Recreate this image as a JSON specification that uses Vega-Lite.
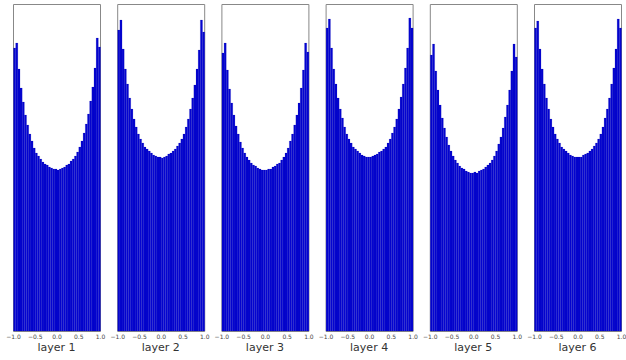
{
  "$schema": "https://vega.github.io/schema/vega-lite/v6.json",
  "padding": {"left": 5, "top": 3, "right": 0, "bottom": 0},
  "background": "white",
  "bounds": "flush",
  "config": {
    "font": "DejaVu Sans",
    "view": {"stroke": "#888888", "strokeWidth": 1},
    "axis": {"domain": false, "grid": false}
  },
  "data": {"values": [
    {"layer":"layer 1","lo":-1.0,"hi":-0.95,"count":283},{"layer":"layer 1","lo":-0.95,"hi":-0.9,"count":288},{"layer":"layer 1","lo":-0.9,"hi":-0.85,"count":262},{"layer":"layer 1","lo":-0.85,"hi":-0.8,"count":243},{"layer":"layer 1","lo":-0.8,"hi":-0.75,"count":229},{"layer":"layer 1","lo":-0.75,"hi":-0.7,"count":216},{"layer":"layer 1","lo":-0.7,"hi":-0.65,"count":206},{"layer":"layer 1","lo":-0.65,"hi":-0.6,"count":197},{"layer":"layer 1","lo":-0.6,"hi":-0.55,"count":190},{"layer":"layer 1","lo":-0.55,"hi":-0.5,"count":183},{"layer":"layer 1","lo":-0.5,"hi":-0.45,"count":178},{"layer":"layer 1","lo":-0.45,"hi":-0.4,"count":175},{"layer":"layer 1","lo":-0.4,"hi":-0.35,"count":172},{"layer":"layer 1","lo":-0.35,"hi":-0.3,"count":169},{"layer":"layer 1","lo":-0.3,"hi":-0.25,"count":167},{"layer":"layer 1","lo":-0.25,"hi":-0.2,"count":166},{"layer":"layer 1","lo":-0.2,"hi":-0.15,"count":164},{"layer":"layer 1","lo":-0.15,"hi":-0.1,"count":163},{"layer":"layer 1","lo":-0.1,"hi":-0.05,"count":162},{"layer":"layer 1","lo":-0.05,"hi":0.0,"count":162},
    {"layer":"layer 1","lo":0.0,"hi":0.05,"count":161},{"layer":"layer 1","lo":0.05,"hi":0.1,"count":162},{"layer":"layer 1","lo":0.1,"hi":0.15,"count":163},{"layer":"layer 1","lo":0.15,"hi":0.2,"count":164},{"layer":"layer 1","lo":0.2,"hi":0.25,"count":166},{"layer":"layer 1","lo":0.25,"hi":0.3,"count":167},{"layer":"layer 1","lo":0.3,"hi":0.35,"count":170},{"layer":"layer 1","lo":0.35,"hi":0.4,"count":172},{"layer":"layer 1","lo":0.4,"hi":0.45,"count":175},{"layer":"layer 1","lo":0.45,"hi":0.5,"count":179},{"layer":"layer 1","lo":0.5,"hi":0.55,"count":184},{"layer":"layer 1","lo":0.55,"hi":0.6,"count":190},{"layer":"layer 1","lo":0.6,"hi":0.65,"count":198},{"layer":"layer 1","lo":0.65,"hi":0.7,"count":207},{"layer":"layer 1","lo":0.7,"hi":0.75,"count":217},{"layer":"layer 1","lo":0.75,"hi":0.8,"count":230},{"layer":"layer 1","lo":0.8,"hi":0.85,"count":244},{"layer":"layer 1","lo":0.85,"hi":0.9,"count":263},{"layer":"layer 1","lo":0.9,"hi":0.95,"count":293},{"layer":"layer 1","lo":0.95,"hi":1.0,"count":284},

    {"layer":"layer 2","lo":-1.0,"hi":-0.95,"count":301},{"layer":"layer 2","lo":-0.95,"hi":-0.9,"count":311},{"layer":"layer 2","lo":-0.9,"hi":-0.85,"count":282},{"layer":"layer 2","lo":-0.85,"hi":-0.8,"count":262},{"layer":"layer 2","lo":-0.8,"hi":-0.75,"count":247},{"layer":"layer 2","lo":-0.75,"hi":-0.7,"count":233},{"layer":"layer 2","lo":-0.7,"hi":-0.65,"count":222},{"layer":"layer 2","lo":-0.65,"hi":-0.6,"count":212},{"layer":"layer 2","lo":-0.6,"hi":-0.55,"count":204},{"layer":"layer 2","lo":-0.55,"hi":-0.5,"count":197},{"layer":"layer 2","lo":-0.5,"hi":-0.45,"count":192},{"layer":"layer 2","lo":-0.45,"hi":-0.4,"count":188},{"layer":"layer 2","lo":-0.4,"hi":-0.35,"count":184},{"layer":"layer 2","lo":-0.35,"hi":-0.3,"count":182},{"layer":"layer 2","lo":-0.3,"hi":-0.25,"count":180},{"layer":"layer 2","lo":-0.25,"hi":-0.2,"count":178},{"layer":"layer 2","lo":-0.2,"hi":-0.15,"count":176},{"layer":"layer 2","lo":-0.15,"hi":-0.1,"count":175},{"layer":"layer 2","lo":-0.1,"hi":-0.05,"count":174},{"layer":"layer 2","lo":-0.05,"hi":0.0,"count":174},
    {"layer":"layer 2","lo":0.0,"hi":0.05,"count":173},{"layer":"layer 2","lo":0.05,"hi":0.1,"count":174},{"layer":"layer 2","lo":0.1,"hi":0.15,"count":175},{"layer":"layer 2","lo":0.15,"hi":0.2,"count":177},{"layer":"layer 2","lo":0.2,"hi":0.25,"count":178},{"layer":"layer 2","lo":0.25,"hi":0.3,"count":180},{"layer":"layer 2","lo":0.3,"hi":0.35,"count":182},{"layer":"layer 2","lo":0.35,"hi":0.4,"count":185},{"layer":"layer 2","lo":0.4,"hi":0.45,"count":188},{"layer":"layer 2","lo":0.45,"hi":0.5,"count":192},{"layer":"layer 2","lo":0.5,"hi":0.55,"count":197},{"layer":"layer 2","lo":0.55,"hi":0.6,"count":204},{"layer":"layer 2","lo":0.6,"hi":0.65,"count":212},{"layer":"layer 2","lo":0.65,"hi":0.7,"count":222},{"layer":"layer 2","lo":0.7,"hi":0.75,"count":233},{"layer":"layer 2","lo":0.75,"hi":0.8,"count":246},{"layer":"layer 2","lo":0.8,"hi":0.85,"count":262},{"layer":"layer 2","lo":0.85,"hi":0.9,"count":281},{"layer":"layer 2","lo":0.9,"hi":0.95,"count":311},{"layer":"layer 2","lo":0.95,"hi":1.0,"count":299},

    {"layer":"layer 3","lo":-1.0,"hi":-0.95,"count":278},{"layer":"layer 3","lo":-0.95,"hi":-0.9,"count":288},{"layer":"layer 3","lo":-0.9,"hi":-0.85,"count":261},{"layer":"layer 3","lo":-0.85,"hi":-0.8,"count":242},{"layer":"layer 3","lo":-0.8,"hi":-0.75,"count":228},{"layer":"layer 3","lo":-0.75,"hi":-0.7,"count":216},{"layer":"layer 3","lo":-0.7,"hi":-0.65,"count":205},{"layer":"layer 3","lo":-0.65,"hi":-0.6,"count":197},{"layer":"layer 3","lo":-0.6,"hi":-0.55,"count":189},{"layer":"layer 3","lo":-0.55,"hi":-0.5,"count":183},{"layer":"layer 3","lo":-0.5,"hi":-0.45,"count":178},{"layer":"layer 3","lo":-0.45,"hi":-0.4,"count":174},{"layer":"layer 3","lo":-0.4,"hi":-0.35,"count":171},{"layer":"layer 3","lo":-0.35,"hi":-0.3,"count":168},{"layer":"layer 3","lo":-0.3,"hi":-0.25,"count":166},{"layer":"layer 3","lo":-0.25,"hi":-0.2,"count":165},{"layer":"layer 3","lo":-0.2,"hi":-0.15,"count":163},{"layer":"layer 3","lo":-0.15,"hi":-0.1,"count":162},{"layer":"layer 3","lo":-0.1,"hi":-0.05,"count":161},{"layer":"layer 3","lo":-0.05,"hi":0.0,"count":161},
    {"layer":"layer 3","lo":0.0,"hi":0.05,"count":161},{"layer":"layer 3","lo":0.05,"hi":0.1,"count":162},{"layer":"layer 3","lo":0.1,"hi":0.15,"count":162},{"layer":"layer 3","lo":0.15,"hi":0.2,"count":164},{"layer":"layer 3","lo":0.2,"hi":0.25,"count":165},{"layer":"layer 3","lo":0.25,"hi":0.3,"count":167},{"layer":"layer 3","lo":0.3,"hi":0.35,"count":168},{"layer":"layer 3","lo":0.35,"hi":0.4,"count":171},{"layer":"layer 3","lo":0.4,"hi":0.45,"count":174},{"layer":"layer 3","lo":0.45,"hi":0.5,"count":178},{"layer":"layer 3","lo":0.5,"hi":0.55,"count":183},{"layer":"layer 3","lo":0.55,"hi":0.6,"count":190},{"layer":"layer 3","lo":0.6,"hi":0.65,"count":197},{"layer":"layer 3","lo":0.65,"hi":0.7,"count":206},{"layer":"layer 3","lo":0.7,"hi":0.75,"count":216},{"layer":"layer 3","lo":0.75,"hi":0.8,"count":228},{"layer":"layer 3","lo":0.8,"hi":0.85,"count":243},{"layer":"layer 3","lo":0.85,"hi":0.9,"count":261},{"layer":"layer 3","lo":0.9,"hi":0.95,"count":288},{"layer":"layer 3","lo":0.95,"hi":1.0,"count":279},

    {"layer":"layer 4","lo":-1.0,"hi":-0.95,"count":303},{"layer":"layer 4","lo":-0.95,"hi":-0.9,"count":312},{"layer":"layer 4","lo":-0.9,"hi":-0.85,"count":283},{"layer":"layer 4","lo":-0.85,"hi":-0.8,"count":262},{"layer":"layer 4","lo":-0.8,"hi":-0.75,"count":247},{"layer":"layer 4","lo":-0.75,"hi":-0.7,"count":233},{"layer":"layer 4","lo":-0.7,"hi":-0.65,"count":222},{"layer":"layer 4","lo":-0.65,"hi":-0.6,"count":213},{"layer":"layer 4","lo":-0.6,"hi":-0.55,"count":204},{"layer":"layer 4","lo":-0.55,"hi":-0.5,"count":197},{"layer":"layer 4","lo":-0.5,"hi":-0.45,"count":192},{"layer":"layer 4","lo":-0.45,"hi":-0.4,"count":188},{"layer":"layer 4","lo":-0.4,"hi":-0.35,"count":184},{"layer":"layer 4","lo":-0.35,"hi":-0.3,"count":182},{"layer":"layer 4","lo":-0.3,"hi":-0.25,"count":180},{"layer":"layer 4","lo":-0.25,"hi":-0.2,"count":178},{"layer":"layer 4","lo":-0.2,"hi":-0.15,"count":176},{"layer":"layer 4","lo":-0.15,"hi":-0.1,"count":175},{"layer":"layer 4","lo":-0.1,"hi":-0.05,"count":174},{"layer":"layer 4","lo":-0.05,"hi":0.0,"count":174},
    {"layer":"layer 4","lo":0.0,"hi":0.05,"count":174},{"layer":"layer 4","lo":0.05,"hi":0.1,"count":175},{"layer":"layer 4","lo":0.1,"hi":0.15,"count":176},{"layer":"layer 4","lo":0.15,"hi":0.2,"count":177},{"layer":"layer 4","lo":0.2,"hi":0.25,"count":179},{"layer":"layer 4","lo":0.25,"hi":0.3,"count":180},{"layer":"layer 4","lo":0.3,"hi":0.35,"count":182},{"layer":"layer 4","lo":0.35,"hi":0.4,"count":184},{"layer":"layer 4","lo":0.4,"hi":0.45,"count":188},{"layer":"layer 4","lo":0.45,"hi":0.5,"count":192},{"layer":"layer 4","lo":0.5,"hi":0.55,"count":198},{"layer":"layer 4","lo":0.55,"hi":0.6,"count":204},{"layer":"layer 4","lo":0.6,"hi":0.65,"count":212},{"layer":"layer 4","lo":0.65,"hi":0.7,"count":222},{"layer":"layer 4","lo":0.7,"hi":0.75,"count":234},{"layer":"layer 4","lo":0.75,"hi":0.8,"count":247},{"layer":"layer 4","lo":0.8,"hi":0.85,"count":263},{"layer":"layer 4","lo":0.85,"hi":0.9,"count":283},{"layer":"layer 4","lo":0.9,"hi":0.95,"count":313},{"layer":"layer 4","lo":0.95,"hi":1.0,"count":303},

    {"layer":"layer 5","lo":-1.0,"hi":-0.95,"count":276},{"layer":"layer 5","lo":-0.95,"hi":-0.9,"count":287},{"layer":"layer 5","lo":-0.9,"hi":-0.85,"count":260},{"layer":"layer 5","lo":-0.85,"hi":-0.8,"count":241},{"layer":"layer 5","lo":-0.8,"hi":-0.75,"count":226},{"layer":"layer 5","lo":-0.75,"hi":-0.7,"count":213},{"layer":"layer 5","lo":-0.7,"hi":-0.65,"count":203},{"layer":"layer 5","lo":-0.65,"hi":-0.6,"count":194},{"layer":"layer 5","lo":-0.6,"hi":-0.55,"count":186},{"layer":"layer 5","lo":-0.55,"hi":-0.5,"count":180},{"layer":"layer 5","lo":-0.5,"hi":-0.45,"count":175},{"layer":"layer 5","lo":-0.45,"hi":-0.4,"count":171},{"layer":"layer 5","lo":-0.4,"hi":-0.35,"count":168},{"layer":"layer 5","lo":-0.35,"hi":-0.3,"count":165},{"layer":"layer 5","lo":-0.3,"hi":-0.25,"count":163},{"layer":"layer 5","lo":-0.25,"hi":-0.2,"count":162},{"layer":"layer 5","lo":-0.2,"hi":-0.15,"count":160},{"layer":"layer 5","lo":-0.15,"hi":-0.1,"count":159},{"layer":"layer 5","lo":-0.1,"hi":-0.05,"count":158},{"layer":"layer 5","lo":-0.05,"hi":0.0,"count":158},
    {"layer":"layer 5","lo":0.0,"hi":0.05,"count":159},{"layer":"layer 5","lo":0.05,"hi":0.1,"count":158},{"layer":"layer 5","lo":0.1,"hi":0.15,"count":160},{"layer":"layer 5","lo":0.15,"hi":0.2,"count":161},{"layer":"layer 5","lo":0.2,"hi":0.25,"count":162},{"layer":"layer 5","lo":0.25,"hi":0.3,"count":164},{"layer":"layer 5","lo":0.3,"hi":0.35,"count":166},{"layer":"layer 5","lo":0.35,"hi":0.4,"count":168},{"layer":"layer 5","lo":0.4,"hi":0.45,"count":171},{"layer":"layer 5","lo":0.45,"hi":0.5,"count":175},{"layer":"layer 5","lo":0.5,"hi":0.55,"count":180},{"layer":"layer 5","lo":0.55,"hi":0.6,"count":187},{"layer":"layer 5","lo":0.6,"hi":0.65,"count":194},{"layer":"layer 5","lo":0.65,"hi":0.7,"count":203},{"layer":"layer 5","lo":0.7,"hi":0.75,"count":214},{"layer":"layer 5","lo":0.75,"hi":0.8,"count":226},{"layer":"layer 5","lo":0.8,"hi":0.85,"count":241},{"layer":"layer 5","lo":0.85,"hi":0.9,"count":260},{"layer":"layer 5","lo":0.9,"hi":0.95,"count":287},{"layer":"layer 5","lo":0.95,"hi":1.0,"count":274},

    {"layer":"layer 6","lo":-1.0,"hi":-0.95,"count":303},{"layer":"layer 6","lo":-0.95,"hi":-0.9,"count":310},{"layer":"layer 6","lo":-0.9,"hi":-0.85,"count":282},{"layer":"layer 6","lo":-0.85,"hi":-0.8,"count":262},{"layer":"layer 6","lo":-0.8,"hi":-0.75,"count":247},{"layer":"layer 6","lo":-0.75,"hi":-0.7,"count":233},{"layer":"layer 6","lo":-0.7,"hi":-0.65,"count":222},{"layer":"layer 6","lo":-0.65,"hi":-0.6,"count":212},{"layer":"layer 6","lo":-0.6,"hi":-0.55,"count":204},{"layer":"layer 6","lo":-0.55,"hi":-0.5,"count":197},{"layer":"layer 6","lo":-0.5,"hi":-0.45,"count":192},{"layer":"layer 6","lo":-0.45,"hi":-0.4,"count":188},{"layer":"layer 6","lo":-0.4,"hi":-0.35,"count":184},{"layer":"layer 6","lo":-0.35,"hi":-0.3,"count":182},{"layer":"layer 6","lo":-0.3,"hi":-0.25,"count":180},{"layer":"layer 6","lo":-0.25,"hi":-0.2,"count":178},{"layer":"layer 6","lo":-0.2,"hi":-0.15,"count":176},{"layer":"layer 6","lo":-0.15,"hi":-0.1,"count":175},{"layer":"layer 6","lo":-0.1,"hi":-0.05,"count":174},{"layer":"layer 6","lo":-0.05,"hi":0.0,"count":174},
    {"layer":"layer 6","lo":0.0,"hi":0.05,"count":174},{"layer":"layer 6","lo":0.05,"hi":0.1,"count":174},{"layer":"layer 6","lo":0.1,"hi":0.15,"count":176},{"layer":"layer 6","lo":0.15,"hi":0.2,"count":177},{"layer":"layer 6","lo":0.2,"hi":0.25,"count":178},{"layer":"layer 6","lo":0.25,"hi":0.3,"count":180},{"layer":"layer 6","lo":0.3,"hi":0.35,"count":182},{"layer":"layer 6","lo":0.35,"hi":0.4,"count":185},{"layer":"layer 6","lo":0.4,"hi":0.45,"count":188},{"layer":"layer 6","lo":0.45,"hi":0.5,"count":192},{"layer":"layer 6","lo":0.5,"hi":0.55,"count":197},{"layer":"layer 6","lo":0.55,"hi":0.6,"count":204},{"layer":"layer 6","lo":0.6,"hi":0.65,"count":213},{"layer":"layer 6","lo":0.65,"hi":0.7,"count":222},{"layer":"layer 6","lo":0.7,"hi":0.75,"count":233},{"layer":"layer 6","lo":0.75,"hi":0.8,"count":247},{"layer":"layer 6","lo":0.8,"hi":0.85,"count":263},{"layer":"layer 6","lo":0.85,"hi":0.9,"count":282},{"layer":"layer 6","lo":0.9,"hi":0.95,"count":312},{"layer":"layer 6","lo":0.95,"hi":1.0,"count":303}
  ]},
  "facet": {
    "column": {
      "field": "layer",
      "type": "nominal",
      "header": {
        "title": null,
        "labelOrient": "bottom",
        "labelFontSize": 11,
        "labelColor": "#333333",
        "labelPadding": 3,
        "labelFont": "DejaVu Sans"
      }
    }
  },
  "spacing": {"column": 17.2},
  "spec": {
    "width": 87,
    "height": 327,
    "mark": {"type": "bar", "fill": "#0505d0", "binSpacing": 0, "stroke": "#0000a0", "strokeWidth": 0.25, "strokeOpacity": 0.5},
    "encoding": {
      "x": {
        "field": "lo",
        "type": "quantitative",
        "bin": {"binned": true},
        "scale": {"domain": [-1, 1], "nice": false, "zero": false},
        "axis": {
          "title": null,
          "values": [-1, -0.5, 0, 0.5, 1],
          "format": ".1f",
          "labelFontSize": 6,
          "labelColor": "#444444",
          "labelPadding": 2,
          "labelOverlap": false,
          "labelFlush": false,
          "labelBound": false,
          "ticks": false
        }
      },
      "x2": {"field": "hi"},
      "y": {
        "field": "count",
        "type": "quantitative",
        "scale": {"domain": [0, 327], "nice": false},
        "axis": null
      }
    }
  }
}
